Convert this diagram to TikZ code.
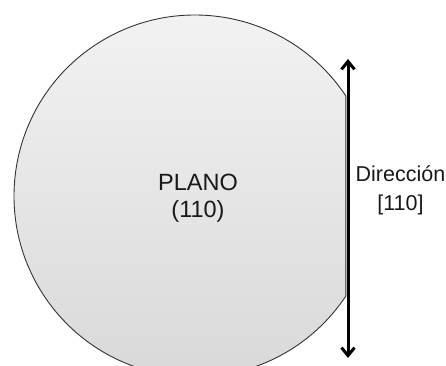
\documentclass[tikz,border=0pt]{standalone}
\usepackage{fontspec}
\setmainfont{Liberation Sans}
\usetikzlibrary{arrows.meta}

\begin{document}
\begin{tikzpicture}[
  x=1pt, y=1pt,
  every node/.style={align=center, text=black!90},
  wafer/.style={draw=black!80, line width=0.9pt,
    top color=gray!9, bottom color=gray!30},
  flatarrow/.style={{Straight Barb[length=8pt,width=13pt]}-{Straight Barb[length=8pt,width=13pt]},
    line width=3pt}]
\useasboundingbox (0,0) rectangle (446,365);
\draw[wafer] (195,169) ++(33.5:181)
  arc[start angle=33.5, end angle=326.5, radius=181] -- cycle;
\node[font=\fontsize{23.5}{27}\selectfont] (plano) at (198,167)
  {PLANO\\(110)};
\coordinate (flattop) at (348,306);
\coordinate (flatbottom) at (348,7);
\draw[flatarrow] (flatbottom) -- (flattop);
\node[font=\fontsize{21.5}{29}\selectfont] (direccion) at (400.5,175)
  {Dirección\\{[110]}};
\end{tikzpicture}
\end{document}
